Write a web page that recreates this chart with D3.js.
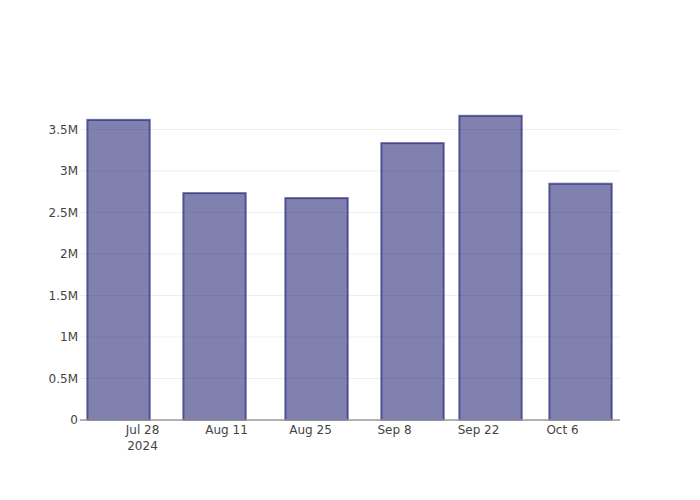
<!DOCTYPE html>
<html lang="en">
<head>
  <meta charset="UTF-8">
  <script src="https://cdn.jsdelivr.net/npm/d3@7"></script>
  <style>
    body { margin: 0; background: #fff; }
    text { font-family: "DejaVu Sans", sans-serif; }
  </style>
</head>
<body>
  <svg class="svg" width="700" height="500"></svg>
  <script>
    // data
    const dates = ["2024-07-24", "2024-08-09", "2024-08-26", "2024-09-11", "2024-09-24", "2024-10-09"]
    const values = [3615000, 2733000, 2673000, 3335000, 3664000, 2846000]
    const tickDates = ["2024-07-28", "2024-08-11", "2024-08-25", "2024-09-08", "2024-09-22", "2024-10-06"]
    const yTicks = [0, 500000, 1000000, 1500000, 2000000, 2500000, 3000000, 3500000]

    let svg = d3.select(".svg")
    let width = +svg.attr("width")
    let height = +svg.attr("height")
    let margin = ({top: 100, right: 80, bottom: 80, left: 80})

    const day = 864e5
    const parse = d3.utcParse("%Y-%m-%d")
    const data = dates.map((d, i) => ({date: parse(d), value: values[i]}))
    const barDays = 10.4

    let x = d3.scaleUtc()
      .domain([+parse("2024-07-28") - 10.42 * day, +parse("2024-10-06") + 9.58 * day])
      .range([margin.left, width - margin.right])

    let y = d3.scaleLinear()
      .domain([0, d3.max(values) * 1.052])
      .range([height - margin.bottom, margin.top])

    // grid
    svg.append("g")
      .selectAll("line")
      .data(yTicks.slice(1))
      .join("line")
      .attr("x1", margin.left)
      .attr("x2", width - margin.right)
      .attr("y1", d => y(d))
      .attr("y2", d => y(d))
      .attr("stroke", "#eee")
      .attr("stroke-width", 1)

    // bars
    svg.append("g")
      .selectAll("rect")
      .data(data)
      .join("rect")
      .attr("x", d => x(+d.date - barDays / 2 * day))
      .attr("width", d => x(+d.date + barDays / 2 * day) - x(+d.date - barDays / 2 * day))
      .attr("y", d => y(d.value))
      .attr("height", d => y(0) - y(d.value))
      .attr("fill", "rgba(25,25,112,0.55)")
      .attr("stroke", "rgba(25,25,112,0.62)")
      .attr("stroke-width", 2)

    // x axis line
    svg.append("line")
      .attr("x1", margin.left)
      .attr("x2", width - margin.right)
      .attr("y1", y(0))
      .attr("y2", y(0))
      .attr("stroke", "#999")
      .attr("stroke-width", 1.5)

    // y tick labels
    const fmt = d => d === 0 ? "0" : (d / 1e6) + "M"
    svg.append("g")
      .attr("fill", "#444")
      .attr("font-size", 12)
      .attr("text-anchor", "end")
      .selectAll("text")
      .data(yTicks)
      .join("text")
      .attr("x", margin.left - 2)
      .attr("y", d => y(d))
      .attr("dy", "0.35em")
      .text(fmt)

    // x tick labels
    const xfmt = d3.utcFormat("%b %-d")
    const xt = svg.append("g")
      .attr("fill", "#444")
      .attr("font-size", 12)
      .attr("text-anchor", "middle")
      .selectAll("text")
      .data(tickDates.map(parse))
      .join("text")
      .attr("x", d => x(d))
      .attr("y", y(0) + 14)
    xt.append("tspan").text(xfmt)
    xt.filter((d, i) => i === 0)
      .append("tspan")
      .attr("x", d => x(d))
      .attr("dy", 16)
      .text(d => d3.utcFormat("%Y")(d))
  </script>
</body>
</html>
